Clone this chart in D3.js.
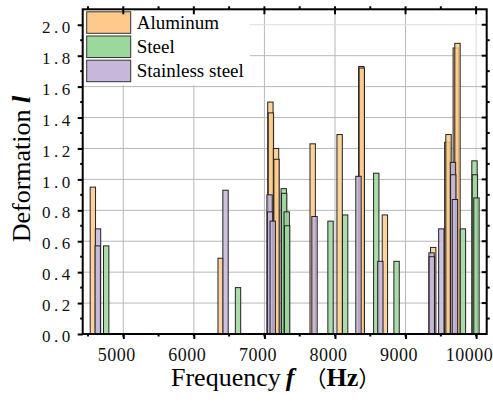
<html lang="en">
  <head>
    <meta charset="utf-8">
    <title>Deformation vs frequency</title>
    <script src="https://d3js.org/d3.v7.min.js"></script>
    <style>
      html, body { margin: 0; background: #fff; overflow: hidden; }
      svg { display: block; }
      text { font-family: "Liberation Serif", "Times New Roman", serif; }
    </style>
  </head>
  <body>
    <script type="text/javascript">
      var w = 493;
      var h = 404;
      var margin = {top: 9.3, right: 6.3, bottom: 70, left: 82.7};
      var innerWidth = w - margin.left - margin.right;
      var innerHeight = h - margin.top - margin.bottom;

      // data
      var seriesNames = ["Aluminum", "Steel", "Stainless steel"];
      var aluminumFreq = [4569, 6380, 7085, 7092, 7165, 7172, 7684, 8066, 8373, 8380, 8707, 9392, 9592, 9609, 9712, 9736];
      var aluminumVal  = [0.95, 0.49, 1.50, 1.43, 1.20, 1.13, 1.23, 1.29, 1.73, 1.72, 0.77, 0.56, 1.24, 1.29, 1.85, 1.88];
      var steelFreq = [4758, 6626, 7274, 7280, 7316, 7322, 7937, 8144, 8585, 8873, 9813, 9977, 9983, 10005];
      var steelVal  = [0.57, 0.30, 0.94, 0.91, 0.79, 0.70, 0.73, 0.77, 1.04, 0.47, 0.68, 1.12, 1.03, 0.88];
      var stainlessFreq = [4642, 4638, 6449, 7073, 7080, 7118, 7710, 8333, 8643, 9368, 9372, 9507, 9672, 9676, 9700];
      var stainlessVal  = [0.68, 0.57, 0.93, 0.90, 0.79, 0.73, 0.76, 1.02, 0.47, 0.525, 0.50, 0.68, 1.11, 1.03, 0.87];
      var xTicks = [5000, 6000, 7000, 8000, 9000, 10000];
      var yTicks = [0, 0.2, 0.4, 0.6, 0.8, 1.0, 1.2, 1.4, 1.6, 1.8, 2.0];

      var colors = ["#fdca8b", "#9cd79b", "#c6b7db"];
      var barW = 76; // in Hz

      var xScale = d3.scaleLinear().domain([4425, 10150]).range([0, innerWidth]);
      var yScale = d3.scaleLinear().domain([0, 2.1]).range([innerHeight, 0]);

      var svg = d3.select("body").append("svg")
          .attr("width", w)
          .attr("height", h);
      var g = svg.append("g")
          .attr("transform", "translate(" + margin.left + "," + margin.top + ")");

      // grid
      g.selectAll(".gx").data(xTicks).enter().append("line")
          .attr("x1", d => xScale(d)).attr("x2", d => xScale(d))
          .attr("y1", 0).attr("y2", innerHeight)
          .attr("stroke", d => d == 10000 ? "#dcdcdc" : "#b8b8b8");
      g.selectAll(".gy").data(yTicks.slice(1)).enter().append("line")
          .attr("x1", 0).attr("x2", innerWidth)
          .attr("y1", d => yScale(d)).attr("y2", d => yScale(d))
          .attr("stroke", d => d == 2.0 ? "#dcdcdc" : "#b8b8b8");

      // bars
      var series = [d3.zip(aluminumFreq, aluminumVal),
                    d3.zip(steelFreq, steelVal),
                    d3.zip(stainlessFreq, stainlessVal)];
      series.forEach(function(rows, i) {
        g.append("g").selectAll("rect")
            .data(rows)
            .enter()
            .append("rect")
            .attr("x", d => xScale(d[0] - barW / 2))
            .attr("width", d => xScale(d[0] + barW / 2) - xScale(d[0] - barW / 2))
            .attr("y", d => yScale(d[1]))
            .attr("height", d => innerHeight - yScale(d[1]))
            .attr("fill", colors[i])
            .attr("fill-opacity", 0.85)
            .attr("stroke", "#222")
            .attr("stroke-width", 1);
      });

      // legend
      var leg = g.append("g");
      leg.append("rect").attr("x", 1).attr("y", 1).attr("width", 166).attr("height", 75).attr("fill", "#fff");
      seriesNames.forEach(function(name, i) {
        leg.append("rect")
            .attr("x", 4).attr("y", 2.5 + i * 24.2)
            .attr("width", 44).attr("height", 21.5)
            .attr("fill", colors[i])
            .attr("stroke", "#333");
        leg.append("text")
            .attr("x", 54).attr("y", 19.8 + i * 24.2)
            .attr("font-size", 19)
            .text(name);
      });

      // axes
      var xAxis = d3.axisBottom(xScale).tickValues(xTicks).tickSize(5).tickPadding(9)
          .tickFormat(d3.format("d"));
      var yAxis = d3.axisLeft(yScale).tickValues(yTicks).tickSize(5).tickPadding(4)
          .tickFormat(d3.format(".1f"));
      var xMinor = d3.range(4500, 10100, 500);
      var yMinor = d3.range(0.1, 2.1, 0.2);

      var gx = g.append("g").attr("transform", "translate(0," + innerHeight + ")").call(xAxis);
      gx.selectAll("text").attr("font-size", 18).attr("dx", -7).attr("letter-spacing", 0.5)
          .attr("font-family", "Liberation Serif").attr("fill", "#111");
      var gy = g.append("g").call(yAxis);
      gy.selectAll("text").attr("font-size", 17).attr("letter-spacing", 3.5)
          .attr("dy", "0.45em").attr("font-family", "Liberation Serif").attr("fill", "#111");
      [gx, gy].forEach(function(a) {
        a.select(".domain").remove();
        a.selectAll(".tick line").attr("stroke-width", 2).attr("stroke", "#000");
      });
      // top / right major ticks inward
      g.append("g").selectAll("line").data(xTicks).enter().append("line")
          .attr("x1", d => xScale(d)).attr("x2", d => xScale(d))
          .attr("y1", 0).attr("y2", 5)
          .attr("stroke", "#000").attr("stroke-width", 2);
      g.append("g").selectAll("line").data(yTicks).enter().append("line")
          .attr("x1", innerWidth).attr("x2", innerWidth - 5)
          .attr("y1", d => yScale(d)).attr("y2", d => yScale(d))
          .attr("stroke", "#000").attr("stroke-width", 2);
      // minor ticks, outward
      g.append("g").selectAll("line").data(xMinor).enter().append("line")
          .attr("x1", d => xScale(d)).attr("x2", d => xScale(d))
          .attr("y1", innerHeight).attr("y2", innerHeight + 2.5)
          .attr("stroke", "#000").attr("stroke-width", 2);
      g.append("g").selectAll("line").data(xMinor).enter().append("line")
          .attr("x1", d => xScale(d)).attr("x2", d => xScale(d))
          .attr("y1", 0).attr("y2", -3)
          .attr("stroke", "#000").attr("stroke-width", 2);
      g.append("g").selectAll("line").data(yMinor).enter().append("line")
          .attr("x1", 0).attr("x2", -2.5)
          .attr("y1", d => yScale(d)).attr("y2", d => yScale(d))
          .attr("stroke", "#000").attr("stroke-width", 2);
      g.append("g").selectAll("line").data(yMinor).enter().append("line")
          .attr("x1", innerWidth).attr("x2", innerWidth + 3)
          .attr("y1", d => yScale(d)).attr("y2", d => yScale(d))
          .attr("stroke", "#000").attr("stroke-width", 2);

      // frame
      g.append("rect")
          .attr("width", innerWidth).attr("height", innerHeight)
          .attr("fill", "none").attr("stroke", "#000").attr("stroke-width", 2);

      // titles
      var yt = svg.append("text")
          .attr("transform", "translate(30," + 169 + ") rotate(-90)")
          .attr("text-anchor", "middle")
          .attr("font-size", 26);
      yt.append("tspan").text("Deformation ");
      yt.append("tspan").attr("font-weight", "bold").attr("font-style", "italic").text("l");

      var xt = svg.append("text")
          .attr("x", 171).attr("y", 386)
          .attr("font-size", 26);
      xt.append("tspan").text("Frequency");
      xt.append("tspan").attr("font-weight", "bold").attr("font-style", "italic").attr("dx", 5).text("f");
      xt.append("tspan").attr("font-family", "Noto Sans CJK SC").attr("font-size", 22).attr("dx", 10).text("（");
      xt.append("tspan").attr("font-weight", "bold").text("Hz");
      xt.append("tspan").attr("font-family", "Noto Sans CJK SC").attr("font-size", 22).text("）");
    </script>
  </body>
</html>
